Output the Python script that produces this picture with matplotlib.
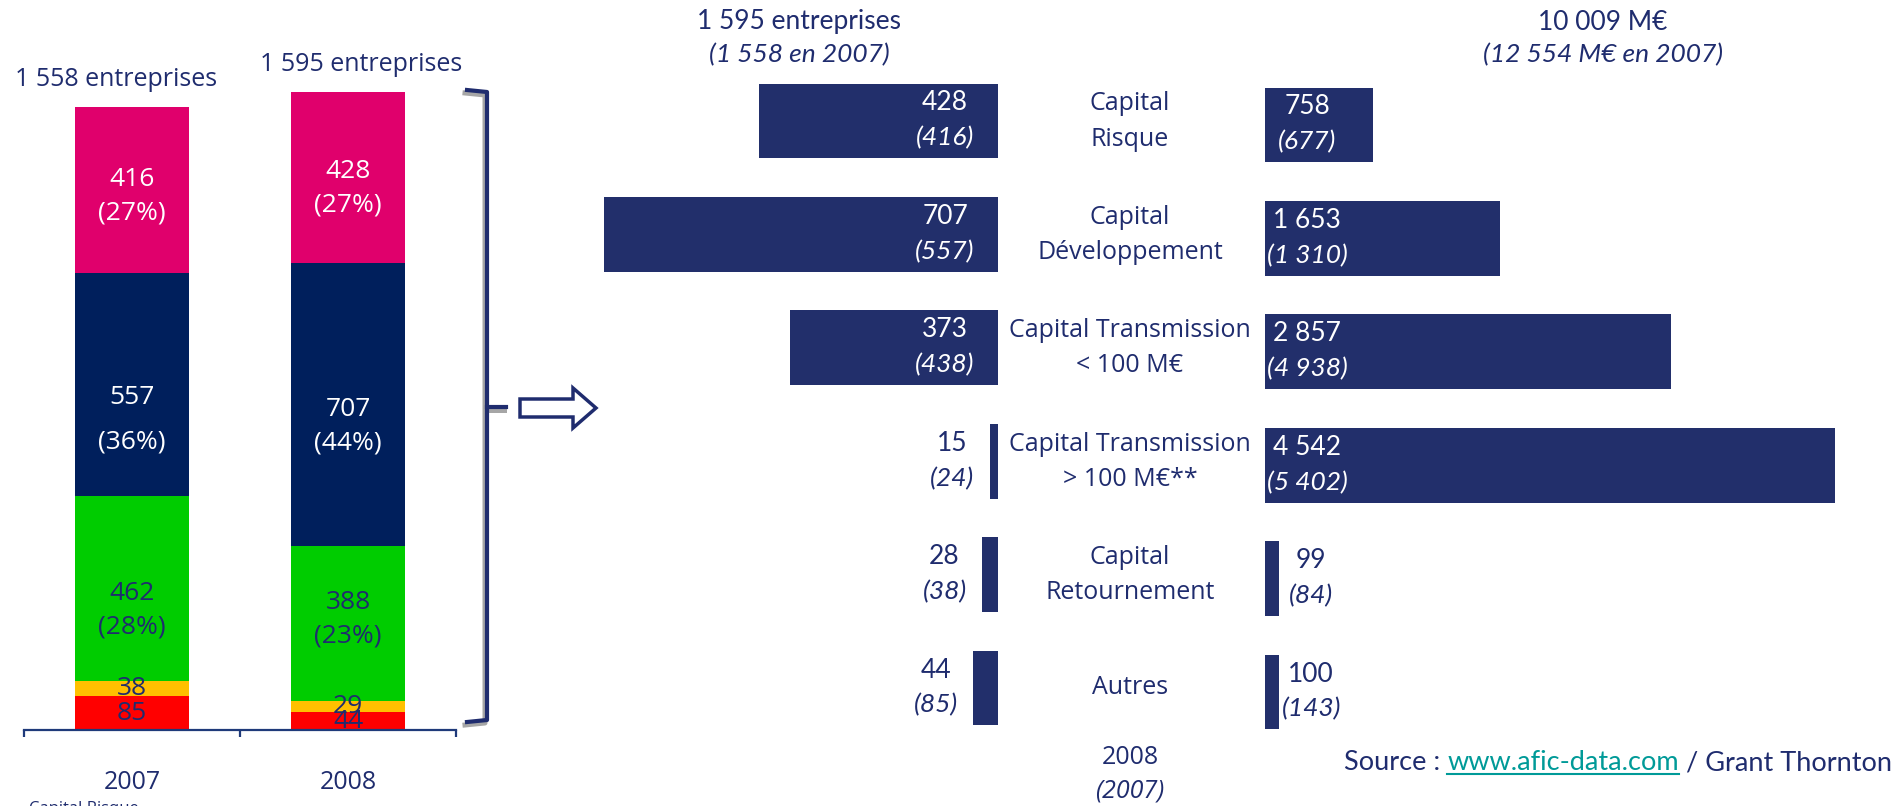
"""
Capital investissement 2008 : entreprises financees et montants investis par segment.
Outputs: out.png
"""

import numpy as np
import matplotlib

matplotlib.use("Agg")
import matplotlib.pyplot as plt
from matplotlib.lines import Line2D
from matplotlib.patches import Polygon

W, H = 1893, 806

# --- stacked bars (number of companies per segment, bottom to top)
years = ["2007", "2008"]
totals = ["1 558 entreprises", "1 595 entreprises"]
stack_2007 = [85, 38, 462, 557, 416]
stack_2008 = [44, 29, 388, 707, 428]
pct_2007 = [None, None, "28%", "36%", "27%"]
pct_2008 = [None, None, "23%", "44%", "27%"]

# --- butterfly (2008 value, 2007 value in brackets)
categories = [
    ("Capital", "Risque"),
    ("Capital", "Développement"),
    ("Capital Transmission", "< 100 M€"),
    ("Capital Transmission", "> 100 M€**"),
    ("Capital", "Retournement"),
    ("Autres",),
]
nb_2008 = [428, 707, 373, 15, 28, 44]
nb_2007 = [416, 557, 438, 24, 38, 85]
mt_2008 = [758, 1653, 2857, 4542, 99, 100]
mt_2007 = [677, 1310, 4938, 5402, 84, 143]

NAVY = "#1F2C6E"
BAR_NAVY = "#222F6B"
stack_colors = ["#FF0000", "#FFC000", "#00CC00", "#001F5C", "#E0006C"]
stack_text = [NAVY, NAVY, NAVY, "white", "white"]
# label nudges inside the stacked segments (pixels down, half gap between lines)
label_shift = [[0, 0, 22, 35, 6], [0, 0, -4, 22, 11]]
label_gap = [[0, 0, 17, 22, 17], [0, 0, 17, 17, 17]]

SANS = "Open Sans"
CAL = "Lato"


def rect(l, t, r, b):
    return [l / W, 1 - b / H, (r - l) / W, (b - t) / H]


def P(x, y):
    return (x / W, 1 - y / H)


def fmt(v):
    return f"{v:,}".replace(",", " ")


fig = plt.figure(figsize=(W / 100, H / 100), dpi=100)
fig.patch.set_facecolor("white")

# ---------------- stacked bar chart
ax1 = fig.add_axes(rect(24, 50, 456, 730))
x = np.arange(2)
bottom = np.zeros(2)
for k in range(len(stack_2007)):
    vals = np.array([stack_2007[k], stack_2008[k]], dtype=float)
    ax1.bar(x, vals, bottom=bottom, width=0.532, color=stack_colors[k], linewidth=0)
    for i, pcts in enumerate([pct_2007, pct_2008]):
        yc = bottom[i] + vals[i] / 2
        if pcts[k] is None:
            ax1.annotate(str(int(vals[i])), (i, yc), ha="center", va="center",
                         color=stack_text[k], fontsize=19, family=SANS)
        else:
            sh, g = label_shift[i][k], label_gap[i][k]
            ax1.annotate(str(int(vals[i])), (i, yc), xytext=(0, g - sh), textcoords="offset pixels",
                         ha="center", va="center", color=stack_text[k], fontsize=19, family=SANS)
            ax1.annotate(f"({pcts[k]})", (i, yc), xytext=(0, -g - sh), textcoords="offset pixels",
                         ha="center", va="center", color=stack_text[k], fontsize=19, family=SANS)
    bottom += vals

head_dx = [-16, 13]
for i in range(2):
    ax1.annotate(totals[i], (i, bottom[i]), xytext=(head_dx[i], 27), textcoords="offset pixels",
                 ha="center", va="center", color=NAVY, fontsize=18, family=SANS,
                 annotation_clip=False)

ax1.set_xlim(-0.5, 1.5)
ax1.set_ylim(0, 1700)
for s in ["top", "left", "right"]:
    ax1.spines[s].set_visible(False)
ax1.spines["bottom"].set_color("#1F3A7A")
ax1.spines["bottom"].set_linewidth(1.6)
ax1.set_yticks([])
ax1.set_xticks(x)
ax1.set_xticklabels(years, fontsize=18, family=SANS, color=NAVY)
ax1.tick_params(axis="x", which="major", length=0, pad=29)
ax1.set_xticks([-0.5, 0.5, 1.5], minor=True)
ax1.tick_params(axis="x", which="minor", length=5, width=1.6, color="#1F3A7A", direction="out")
ax1.set_facecolor("none")

# cut-off legend remnant at the bottom
fig.text(29 / W, 1 - 801 / H, "Capital Risque", ha="left", va="top", fontsize=12,
         color=NAVY, family=SANS)

# ---------------- bracket + arrow
bx, bt, bb, bl = 487, 90, 722, 467
for col, dx, dy, lw in [("#A6A6A6", -2, 3, 3.6), (NAVY, 0, 0, 3.0)]:
    pts = [P(bl + dx, bt + dy), P(bx + dx, bt + dy + 2), P(bx + dx, bb + dy - 2), P(bl + dx, bb + dy)]
    fig.add_artist(Line2D([p[0] for p in pts], [p[1] for p in pts], color=col, lw=lw,
                          transform=fig.transFigure, solid_joinstyle="round"))
    tick = [P(bx + dx, 407 + dy), P(506 + dx, 407 + dy)]
    fig.add_artist(Line2D([p[0] for p in tick], [p[1] for p in tick], color=col, lw=lw,
                          transform=fig.transFigure))

arrow_px = [(520, 399), (573, 399), (573, 388), (596, 408), (573, 428), (573, 417), (520, 417)]
fig.add_artist(Polygon([P(*p) for p in arrow_px], closed=True, facecolor="white",
                       edgecolor=NAVY, lw=2.5, transform=fig.transFigure))

# ---------------- butterfly: number of companies (left)
n = len(categories)
ax2 = fig.add_axes(rect(560, 64.3, 998, 744.7))
ax2.barh(np.arange(n), nb_2008, height=0.66, color=BAR_NAVY, linewidth=0)
ax2.set_xlim(786, 0)
ax2.set_ylim(n - 0.5, -0.5)
ax2.axis("off")
for i in range(n):
    if nb_2008[i] > 100:
        xl, col = 95, "white"
    else:
        xl, col = nb_2008[i] + 68, NAVY
    ax2.annotate(fmt(nb_2008[i]), (xl, i), xytext=(0, 18), textcoords="offset pixels",
                 ha="center", va="center", color=col, fontsize=19, family=CAL)
    ax2.annotate(f"({fmt(nb_2007[i])})", (xl, i), xytext=(0, -17), textcoords="offset pixels",
                 ha="center", va="center", color=col, fontsize=19, family=CAL, style="italic")

# category labels in the middle column
for i, lines in enumerate(categories):
    offs = [0] if len(lines) == 1 else [17, -18]
    for line, off in zip(lines, offs):
        ax2.annotate(line, (1130 / W, i), xycoords=("figure fraction", "data"),
                     xytext=(0, off), textcoords="offset pixels", ha="center", va="center",
                     color=NAVY, fontsize=18, family=SANS, annotation_clip=False)

# ---------------- butterfly: amounts (right)
ax3 = fig.add_axes(rect(1265, 68.3, 1835, 748.7))
ax3.barh(np.arange(n), mt_2008, height=0.66, color=BAR_NAVY, linewidth=0)
ax3.set_xlim(0, 4014)
ax3.set_ylim(n - 0.5, -0.5)
ax3.axis("off")
for i in range(n):
    if mt_2008[i] > 500:
        xl, col = 296, "white"
    else:
        xl, col = mt_2008[i] + 225, NAVY
    ax3.annotate(fmt(mt_2008[i]), (xl, i), xytext=(0, 18), textcoords="offset pixels",
                 ha="center", va="center", color=col, fontsize=19, family=CAL)
    ax3.annotate(f"({fmt(mt_2007[i])})", (xl, i), xytext=(0, -17), textcoords="offset pixels",
                 ha="center", va="center", color=col, fontsize=19, family=CAL, style="italic")

# ---------------- headers / footers
fig.text(*P(799, 22), "1 595 entreprises", ha="center", va="center", fontsize=19, color=NAVY, family=CAL)
fig.text(*P(799, 55), "(1 558 en 2007)", ha="center", va="center", fontsize=19, color=NAVY,
         family=CAL, style="italic")
fig.text(*P(1603, 22), "10 009 M€", ha="center", va="center", fontsize=19, color=NAVY, family=CAL)
fig.text(*P(1603, 55), "(12 554 M€ en 2007)", ha="center", va="center", fontsize=19, color=NAVY,
         family=CAL, style="italic")
fig.text(*P(1130, 757), "2008", ha="center", va="center", fontsize=18, color=NAVY, family=SANS)
fig.text(*P(1130, 791), "(2007)", ha="center", va="center", fontsize=18, color=NAVY,
         family=SANS, style="italic")

t1 = fig.text(*P(1344, 763), "Source : ", ha="left", va="center", fontsize=19.5, color=NAVY, family=CAL)
t2 = ax3.annotate("www.afic-data.com", xy=(1, 0), xycoords=t1, ha="left", va="bottom",
                  fontsize=19.5, color="#009A98", family=CAL, annotation_clip=False)
t3 = ax3.annotate(" / Grant Thornton", xy=(1, 0), xycoords=t2, ha="left", va="bottom",
                  fontsize=19.5, color=NAVY, family=CAL, annotation_clip=False)

fig.canvas.draw()
bb = t2.get_window_extent()
fig.add_artist(Line2D([bb.x0, bb.x1], [bb.y0 + 2, bb.y0 + 2], color="#009A98", lw=1.5,
                      transform=None))

fig.savefig("out.png", dpi=100)
